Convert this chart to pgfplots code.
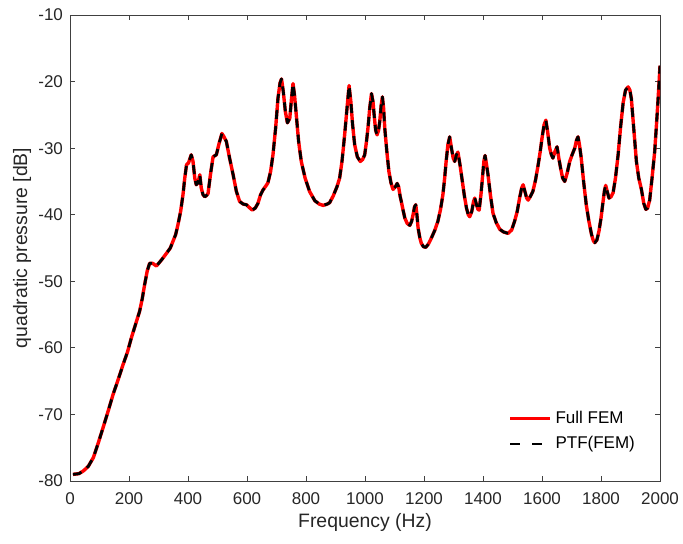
\documentclass[border=0pt]{standalone}
\usepackage{fontspec}
\setmainfont{Liberation Sans}
\usepackage{pgfplots}
\pgfplotsset{compat=1.18}
\usepackage{pgfplotstable}

\definecolor{axisgray}{gray}{0.25}
\definecolor{fullred}{rgb}{1,0,0}

% Quadratic pressure response (dB) versus frequency (Hz)
\pgfplotstableread{
f v
10 -79.0
30 -78.9
45 -78.5
62 -77.8
79 -76.5
95 -74.4
112 -72.0
130 -69.4
146 -67.0
163 -64.8
180 -62.5
195 -60.6
208 -58.5
222 -56.5
236 -54.5
245 -52.6
253 -50.5
262 -48.4
270 -47.3
280 -47.3
293 -47.7
310 -46.8
327 -45.8
340 -45.0
349 -44.0
358 -43.0
366 -41.5
375 -39.5
383 -37.0
389 -34.5
395 -32.5
402 -32.2
411 -31.0
417 -32.0
423 -34.5
428 -35.5
434 -35.2
440 -34.0
445 -36.0
451 -37.0
457 -37.3
463 -37.1
468 -36.8
476 -34.0
485 -31.3
496 -31.0
506 -29.2
515 -27.8
522 -28.3
530 -29.0
541 -31.5
553 -34.0
564 -36.5
575 -38.0
587 -38.4
598 -38.5
610 -39.0
618 -39.3
628 -39.0
637 -38.3
646 -37.0
654 -36.3
662 -35.8
671 -35.2
680 -33.5
688 -31.0
697 -27.0
705 -22.5
712 -20.2
717 -19.6
723 -21.5
730 -24.5
737 -26.2
745 -25.5
751 -22.5
756 -20.3
761 -22.0
767 -25.0
775 -29.0
784 -32.0
797 -34.5
812 -36.5
830 -37.9
845 -38.4
858 -38.6
872 -38.4
880 -38.2
892 -37.2
905 -35.8
914 -34.5
922 -32.0
931 -28.0
939 -24.0
946 -20.6
952 -23.0
958 -26.5
965 -29.5
974 -31.3
984 -32.0
992 -31.7
999 -31.0
1005 -29.0
1010 -27.0
1016 -24.0
1022 -21.8
1027 -23.0
1031 -25.0
1036 -27.3
1041 -28.0
1046 -27.3
1050 -26.0
1055 -23.5
1059 -22.3
1063 -24.0
1067 -27.0
1074 -30.5
1081 -33.5
1088 -35.2
1095 -36.2
1103 -35.8
1109 -35.3
1114 -35.8
1119 -37.2
1123 -38.0
1129 -39.3
1135 -40.5
1143 -41.3
1152 -41.6
1158 -41.0
1163 -40.0
1168 -38.8
1172 -38.5
1176 -40.0
1180 -42.0
1186 -43.5
1191 -44.3
1198 -44.8
1206 -44.9
1215 -44.4
1225 -43.5
1236 -42.4
1247 -41.0
1256 -39.2
1264 -37.0
1270 -34.5
1275 -32.0
1281 -29.5
1287 -28.3
1293 -30.0
1299 -31.5
1304 -32.0
1310 -31.0
1315 -30.6
1322 -32.5
1330 -35.0
1337 -37.2
1344 -39.0
1350 -40.0
1355 -40.3
1362 -39.5
1368 -38.0
1372 -37.5
1378 -38.5
1383 -39.2
1387 -39.3
1393 -37.0
1398 -34.5
1403 -32.0
1407 -31.1
1412 -32.5
1417 -34.0
1425 -37.0
1434 -39.8
1445 -41.2
1457 -42.2
1470 -42.6
1485 -42.8
1497 -42.3
1507 -41.0
1516 -39.5
1524 -37.5
1531 -36.0
1536 -35.5
1542 -36.5
1548 -37.5
1553 -37.8
1560 -37.3
1569 -36.5
1578 -34.8
1587 -32.5
1594 -30.5
1600 -28.5
1607 -26.5
1613 -25.8
1619 -27.5
1626 -30.0
1632 -31.0
1637 -31.5
1644 -30.5
1651 -29.8
1657 -31.5
1663 -33.0
1670 -34.5
1677 -35.0
1685 -33.8
1694 -32.0
1702 -31.0
1711 -30.0
1717 -28.8
1722 -28.3
1727 -29.5
1733 -31.5
1741 -35.0
1750 -38.5
1759 -41.0
1768 -43.0
1774 -43.9
1779 -44.2
1786 -43.8
1793 -42.5
1800 -40.5
1807 -38.0
1812 -36.3
1816 -35.6
1821 -36.5
1827 -37.5
1834 -37.3
1841 -36.7
1849 -34.5
1858 -31.0
1866 -27.0
1875 -23.2
1883 -21.3
1892 -20.8
1898 -21.3
1903 -22.6
1910 -26.5
1920 -32.0
1928 -34.5
1937 -36.2
1945 -38.3
1952 -39.2
1958 -39.0
1965 -37.8
1973 -34.5
1982 -30.5
1988 -26.5
1993 -23.0
1997 -20.0
2000 -17.6
}\pressure

\begin{document}
\begin{tikzpicture}
\begin{axis}[
  scale only axis,
  width=295pt, height=233pt,
  xmin=0, xmax=2000, ymin=-80, ymax=-10,
  xtick={0,200,...,2000},
  ytick={-80,-70,...,-10},
  tick align=inside,
  major tick length=2.6pt,
  axis line style={axisgray, line width=0.4pt},
  every tick/.style={axisgray, line width=0.4pt},
  /pgf/number format/assume math mode=true,
  /pgf/number format/1000 sep={},
  ticklabel style={font=\fontsize{8.5}{10}\selectfont, text=black!85},
  xticklabel style={yshift=-2.3pt},
  xlabel={Frequency (Hz)},
  ylabel={quadratic pressure [dB]},
  label style={font=\fontsize{9.7}{11}\selectfont, text=black!85},
  xlabel style={at={(axis description cs:0.5,-0.088)}, anchor=center},
  ylabel style={at={(axis description cs:-0.081,0.5)}, anchor=center},
  legend style={draw=none, fill=none, font=\fontsize{8.5}{10}\selectfont,
    at={(axis description cs:0.975,0.045)}, anchor=south east,
    row sep=1pt},
  legend cell align=left,
  legend image code/.code={\draw[#1] (0cm,0cm) -- (0.7cm,0cm);},
]
\addplot[fullred, line width=1.7pt, line join=round] table[x=f, y=v] {\pressure};
\addlegendentry{Full FEM}
\addplot[black, line width=1.4pt, line join=round, dash pattern=on 4.5pt off 3.5pt,
  legend image post style={dash pattern=on 5pt off 6pt}]
  table[x=f, y=v] {\pressure};
\addlegendentry{PTF(FEM)}
\end{axis}
\pgfresetboundingbox
\path (-35pt,-31pt) rectangle (306.5pt,240.5pt);
\end{tikzpicture}
\end{document}
